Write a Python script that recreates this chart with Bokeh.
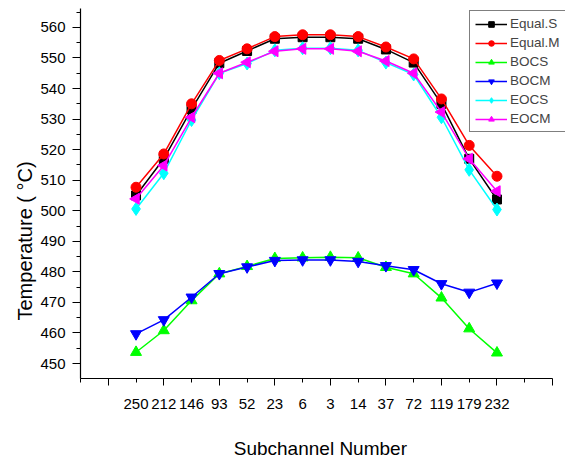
import numpy as np
from bokeh.plotting import figure
from bokeh.models import (Range1d, FixedTicker, SingleIntervalTicker, Legend, LegendItem,
                          LinearAxis, Title, ColumnDataSource)
from bokeh.embed import file_html
from bokeh.resources import INLINE

# ---- data ----
subchannels = ["250", "212", "146", "93", "52", "23", "6", "3", "14", "37", "72", "119", "179", "232"]
equal_s = [505.0, 517.0, 533.3, 548.3, 552.3, 556.3, 556.8, 556.8, 556.3, 552.8, 548.5, 535.0, 517.0, 503.7]
equal_m = [507.7, 518.6, 535.0, 549.2, 553.0, 557.0, 557.6, 557.6, 557.0, 553.6, 549.7, 536.6, 521.4, 511.3]
bocs = [453.7, 460.8, 470.6, 479.4, 481.8, 484.4, 484.6, 484.8, 484.6, 481.5, 479.4, 471.5, 461.4, 453.5]
bocm = [459.7, 464.3, 471.7, 479.4, 481.6, 483.7, 483.9, 483.9, 483.4, 482.0, 480.7, 476.1, 473.3, 476.3]
eocs = [500.6, 512.3, 529.7, 545.0, 548.2, 552.5, 553.2, 553.2, 552.5, 548.5, 544.6, 530.6, 513.4, 500.4]
eocm = [503.9, 514.8, 530.6, 545.0, 548.6, 552.2, 553.0, 553.0, 552.2, 549.0, 545.0, 532.3, 517.0, 506.4]
series_names = ["Equal.S", "Equal.M", "BOCS", "BOCM", "EOCS", "EOCM"]

# x positions: category order, offset by two slots inside the axis
xpos = [i + 2 for i in range(len(subchannels))]

FONT = "Liberation Sans"

p = figure(frame_width=485, frame_height=370, min_border_left=80, min_border_right=0,
           min_border_top=8, min_border_bottom=82,
           x_range=Range1d(0, 17.468), y_range=Range1d(445.1, 566.2),
           output_backend="svg", toolbar_location=None,
           background_fill_color="white", border_fill_color="white")
p.outline_line_color = None
p.xgrid.visible = False
p.ygrid.visible = False

# y axis
ya = p.yaxis[0]
ya.ticker = SingleIntervalTicker(interval=10, num_minor_ticks=2)
ya.axis_line_color = "black"
ya.axis_line_width = 1.2
ya.major_tick_in = 0
ya.major_tick_out = 8
ya.minor_tick_in = 0
ya.minor_tick_out = 4
ya.major_tick_line_color = "black"
ya.minor_tick_line_color = "black"
ya.major_label_text_font = FONT
ya.major_label_text_font_size = "15px"
ya.major_label_text_color = "black"
ya.major_label_standoff = 7

# y axis title (left-side title, placed lower like the reference)
p.add_layout(Title(text="Temperature ( °C)", text_font=FONT, text_font_size="20px",
                   text_font_style="normal", text_color="black", align="left",
                   offset=58, standoff=4), "left")

# x axis: tick marks only
xa = p.xaxis[0]
xa.bounds = (0, 17)
xa.ticker = FixedTicker(ticks=list(range(1, 18, 2)), minor_ticks=list(range(0, 18, 2)))
xa.major_label_overrides = {t: "" for t in range(0, 18)}
xa.major_label_text_font_size = "1px"
xa.major_label_standoff = 0
xa.axis_line_color = "black"
xa.axis_line_width = 1.2
xa.major_tick_in = 0
xa.major_tick_out = 7
xa.minor_tick_in = 0
xa.minor_tick_out = 4
xa.major_tick_line_color = "black"
xa.minor_tick_line_color = "black"

# x axis: subchannel labels and title
xb = LinearAxis(ticker=FixedTicker(ticks=xpos, minor_ticks=[]),
                major_label_overrides={x: s for x, s in zip(xpos, subchannels)},
                axis_line_color=None, major_tick_line_color=None, minor_tick_line_color=None,
                major_tick_in=0, major_tick_out=0,
                major_label_text_font=FONT, major_label_text_font_size="15px",
                major_label_text_color="black", major_label_standoff=13,
                axis_label="Subchannel  Number", axis_label_text_font=FONT,
                axis_label_text_font_size="19px", axis_label_text_font_style="normal",
                axis_label_text_color="black", axis_label_standoff=26)
p.add_layout(xb, "below")

styles = [
    (equal_s, "black", "square", 0.0, 9),
    (equal_m, "red", "circle", 0.0, 10),
    (bocs, "#00ff00", "triangle", 0.0, 11),
    (bocm, "blue", "inverted_triangle", 0.0, 11),
    (eocs, "cyan", "diamond", 0.0, 13),
    (eocm, "magenta", "triangle", np.pi / 2, 11),
]

items = []
for name, (vals, col, mk, ang, sz) in zip(series_names, styles):
    src = ColumnDataSource(dict(x=xpos, y=vals))
    ln = p.line("x", "y", source=src, line_color=col, line_width=1.5)
    sc = p.scatter("x", "y", source=src, marker=mk, angle=ang, size=sz,
                   fill_color=col, line_color=col)
    items.append(LegendItem(label=name, renderers=[ln, sc]))

legend = Legend(items=items, location=(389, 246),
                border_line_color="black", border_line_width=1.2,
                background_fill_color="white", background_fill_alpha=1.0,
                label_text_font=FONT, label_text_font_size="13.5px",
                glyph_width=32, glyph_height=14, label_height=14,
                label_standoff=3, spacing=4, padding=5, margin=0)
p.add_layout(legend, "center")

open("out.html", "w").write(file_html(p, INLINE))
